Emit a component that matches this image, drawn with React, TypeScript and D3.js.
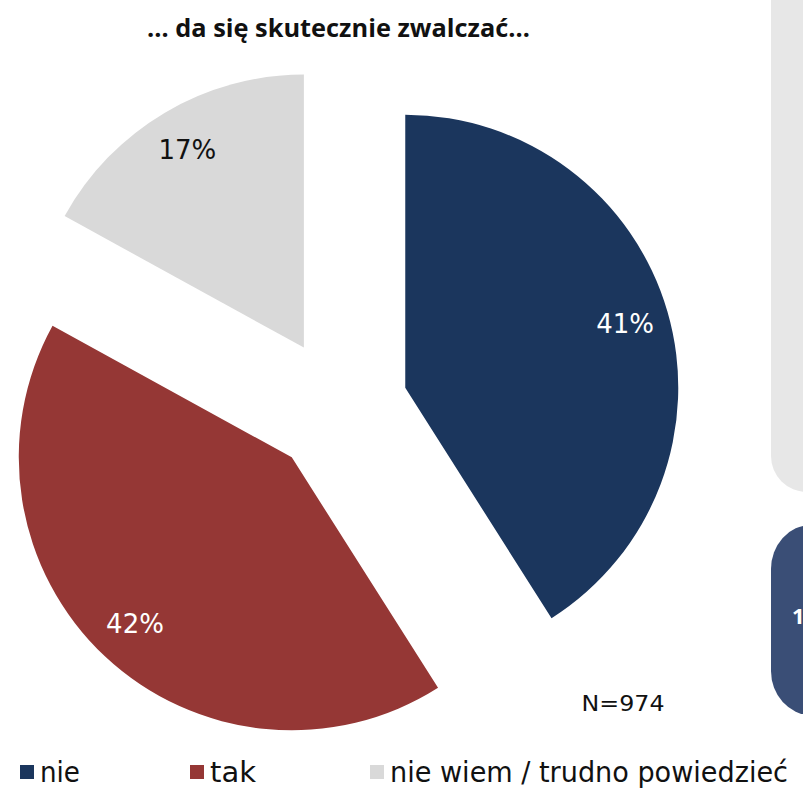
import React from "react";
import * as d3 from "d3";

const categories = ["nie", "tak", "nie wiem / trudno powiedzieć"];
const values = [41, 42, 17];
const labels = ["41%", "42%", "17%"];
const colors = ["#1b365d", "#953735", "#d9d9d9"];
const labelColors = ["#ffffff", "#ffffff", "#111111"];
const title = "… da się skutecznie zwalczać…";
const note = "N=974";

const W = 803;
const H = 788;

export default function App() {
  const cx = 339;
  const cy = 407;
  const R = 273;
  const explode = 69;
  const labelR = 229;

  const pie = d3
    .pie<number>()
    .sort(null)
    .startAngle(0)
    .endAngle(2 * Math.PI)
    .value((d) => d);
  const arcs = pie(values);
  const arc = d3.arc<d3.PieArcDatum<number>>().innerRadius(0).outerRadius(R);

  const legendX = [20, 190, 370];
  const legendTextLen = [40, 46, 398];

  return (
    <svg
      width={W}
      height={H}
      viewBox={`0 0 ${W} ${H}`}
      style={{ position: "absolute", left: 0, top: 0, display: "block", background: "#ffffff" }}
    >
      {/* right-side decorative panels */}
      <rect x={771} y={-40} width={80} height={532} rx={36} fill="#e7e7e7" />
      <rect x={771} y={525} width={80} height={190} rx={44} fill="#3a4e76" />
      <text x={792} y={624} fill="#ffffff" fontFamily="'Open Sans', sans-serif" fontWeight="bold" fontSize={22}>
        1
      </text>

      <text
        x={338.5}
        y={37}
        textAnchor="middle"
        fontFamily="'Open Sans', Lato, sans-serif"
        fontWeight={700}
        fontSize={25}
        textLength={383}
        lengthAdjust="spacingAndGlyphs"
        fill="#111"
      >
        {title}
      </text>

      {arcs.map((a, i) => {
        const mid = (a.startAngle + a.endAngle) / 2;
        const ox = cx + explode * Math.sin(mid);
        const oy = cy - explode * Math.cos(mid);
        const lx = labelR * Math.sin(mid);
        const ly = -labelR * Math.cos(mid);
        return (
          <g key={i} transform={`translate(${ox},${oy})`}>
            <path d={arc(a) || ""} fill={colors[i]} />
            <text
              x={lx}
              y={ly}
              textAnchor="middle"
              dominantBaseline="central"
              fontFamily="'DejaVu Sans', Verdana, sans-serif"
              fontSize={26}
              fill={labelColors[i]}
            >
              {labels[i]}
            </text>
          </g>
        );
      })}

      <text
        x={623}
        y={711}
        textAnchor="middle"
        fontFamily="'DejaVu Sans', Verdana, sans-serif"
        fontSize={22}
        textLength={83}
        lengthAdjust="spacingAndGlyphs"
        fill="#111"
      >
        {note}
      </text>

      {categories.map((c, i) => (
        <g key={c}>
          <rect x={legendX[i]} y={765} width={14} height={14} fill={colors[i]} />
          <text
            x={legendX[i] + 20}
            y={782}
            fontFamily="'DejaVu Sans Condensed', 'DejaVu Sans', sans-serif"
            fontSize={28}
            textLength={legendTextLen[i]}
            lengthAdjust="spacingAndGlyphs"
            fill="#111"
          >
            {c}
          </text>
        </g>
      ))}
    </svg>
  );
}
